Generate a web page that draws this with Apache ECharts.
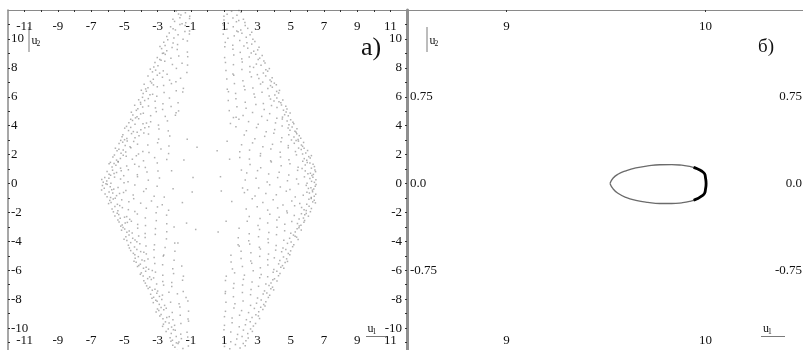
<!DOCTYPE html>
<html><head><meta charset="utf-8">
<script src="https://cdn.jsdelivr.net/npm/echarts@6/dist/echarts.min.js"></script>
<style>html,body{margin:0;padding:0;background:#fff}#c{width:803px;height:350px}</style>
</head><body><div id="c"></div>
<script>
// ---- tick values / labels ----
const leftXTicks = [-11,-10,-9,-8,-7,-6,-5,-4,-3,-2,-1,0,1,2,3,4,5,6,7,8,9,10,11];
const leftXLabels = [-11,-9,-7,-5,-3,-1,1,3,5,7,9,11];
const leftYTicks = [-11,-10,-9,-8,-7,-6,-5,-4,-3,-2,-1,0,1,2,3,4,5,6,7,8,9,10,11];
const leftYLabels = [-10,-8,-6,-4,-2,0,2,4,6,8,10];
const rightXLabels = [9,10];
const rightYLabels = [-0.75,0,0.75];

// ---- panel a): point cloud (u1,u2) ----
const leftLobeUpper = [
[-1.88,11.93],[-1.60,11.66],[-1.33,11.81],[-1.07,11.57],[-1.74,11.72],
[-1.98,11.21],[-1.66,11.46],[-2.08,11.36],[-1.31,11.12],[-1.08,11.41],[-1.53,11.05],
[-2.22,10.84],[-1.93,10.62],[-1.34,10.93],[-2.07,10.71],[-1.08,10.55],[-1.66,10.99],
[-2.30,10.41],[-2.45,10.17],[-1.77,10.29],[-1.36,10.51],[-2.02,10.06],[-1.09,10.34],
[-2.63,9.77],[-2.39,9.94],[-1.80,9.61],[-1.21,9.86],[-2.55,9.54],[-2.07,9.72],[-1.47,9.98],
[-2.76,9.33],[-2.45,9.18],[-2.86,9.47],[-1.82,9.26],[-1.21,9.09],[-2.13,9.41],[-2.64,9.02],
[-3.02,8.71],[-2.54,8.93],[-2.87,8.58],[-1.73,8.82],[-2.20,8.66],[-1.19,8.77],[-2.71,9.00],
[-3.16,8.37],[-2.98,8.14],[-2.57,8.46],[-2.11,8.23],[-3.23,8.05],[-1.53,8.31],[-2.79,8.52],[-1.20,8.19],
[-3.31,7.72],[-3.44,7.91],[-2.88,7.63],[-3.12,7.84],[-2.43,7.55],[-1.87,7.96],[-1.24,7.68],[-2.66,7.79],
[-3.58,7.44],[-3.26,7.21],[-3.43,7.06],[-2.71,7.35],[-2.28,7.15],[-3.02,7.49],[-1.62,7.28],[-1.90,7.03],
[-3.81,6.87],[-3.58,6.63],[-3.36,6.95],[-3.72,6.54],[-2.64,6.78],[-3.02,6.69],[-2.17,6.91],[-1.45,6.58],[-3.25,6.82],
[-3.87,6.22],[-3.98,6.45],[-3.46,6.13],[-3.68,6.38],[-3.05,6.04],[-2.61,6.29],[-1.88,6.41],[-3.30,6.17],[-1.49,6.33],
[-4.14,5.79],[-3.91,5.96],[-4.03,5.61],[-3.56,5.87],[-3.15,5.69],[-2.68,5.52],[-3.78,5.74],[-2.29,5.91],[-1.77,5.58],
[-4.38,5.41],[-4.19,5.17],[-3.90,5.29],[-4.28,5.06],[-3.55,5.36],[-3.13,5.23],[-4.02,5.48],[-2.70,5.12],[-2.19,5.33],[-1.74,5.02],
[-4.49,4.74],[-4.58,4.93],[-4.24,4.61],[-3.86,4.86],[-4.33,4.54],[-3.42,4.69],[-3.08,4.97],[-4.02,4.81],[-2.54,4.64],[-1.89,4.89],
[-4.73,4.21],[-4.62,4.44],[-4.36,4.09],[-4.51,4.36],[-3.88,4.13],[-3.42,4.27],[-4.14,4.48],[-2.95,4.04],[-2.41,4.33],[-3.67,4.18],
[-4.98,3.83],[-4.75,3.66],[-4.87,3.95],[-4.46,3.59],[-4.62,3.88],[-4.01,3.71],[-3.53,3.93],[-4.23,3.55],[-2.92,3.77],[-2.36,3.64],[-3.77,3.86],
[-5.09,3.38],[-4.85,3.11],[-5.14,3.24],[-4.57,3.45],[-4.99,3.03],[-4.12,3.31],[-4.36,3.16],[-3.55,3.42],[-2.94,3.07],[-2.27,3.28],[-3.83,3.49],
[-5.32,2.77],[-5.22,2.98],[-4.95,2.63],[-5.10,2.86],[-4.66,2.55],[-4.21,2.72],[-4.83,2.94],[-3.59,2.67],[-3.00,2.82],[-2.32,2.59],[-4.44,2.91],
[-5.44,2.26],[-5.54,2.44],[-5.20,2.09],[-5.33,2.37],[-4.92,2.18],[-4.61,2.47],[-4.15,2.04],[-5.07,2.31],[-3.52,2.14],[-2.80,2.39],[-3.89,2.22],[-2.34,2.07],
[-5.69,1.84],[-5.47,1.62],[-5.60,1.97],[-5.24,1.73],[-5.38,1.53],[-4.89,1.89],[-4.52,1.68],[-5.07,1.95],[-3.85,1.57],[-3.18,1.79],[-2.45,1.66],[-4.28,1.92],
[-5.92,1.36],[-5.74,1.14],[-5.51,1.27],[-5.84,1.46],[-5.23,1.06],[-5.62,1.39],[-4.86,1.21],[-4.38,1.33],[-5.37,1.49],[-3.74,1.11],[-3.02,1.42],[-4.12,1.18],
[-6.04,0.83],[-5.92,0.64],[-5.71,0.92],[-5.83,0.57],[-5.47,0.76],[-5.19,0.88],[-5.62,0.69],[-4.76,0.95],[-4.22,0.61],[-3.64,0.79],[-2.98,0.86],[-5.04,0.54],
[-6.36,0.27],[-6.18,0.41],[-6.27,0.09],[-5.93,0.36],[-6.06,0.17],[-5.59,0.44],[-5.81,0.02],[-5.23,0.31],[-4.78,0.12],[-4.21,0.47],[-3.56,0.23],[-2.89,0.38],[-5.02,0.06],
[-1.42,1.63],[-0.87,0.41],[-1.93,4.72],[-1.22,3.06],[-2.16,0.88],[-0.63,2.51]
];
const leftLobeLower = [
[-6.32,-0.14],[-6.21,-0.33],[-6.03,-0.06],[-6.37,-0.45],[-5.85,-0.22],[-5.64,-0.39],[-6.11,-0.01],[-5.38,-0.28],[-4.91,-0.48],[-4.37,-0.11],[-3.69,-0.36],[-3.03,-0.19],[-5.76,-0.43],
[-6.16,-0.73],[-5.92,-0.58],[-6.04,-0.91],[-5.70,-0.66],[-5.47,-0.84],[-5.83,-0.97],[-5.05,-0.62],[-4.47,-0.79],[-3.84,-0.55],[-3.21,-0.88],[-5.29,-0.69],[-2.60,-0.94],
[-5.88,-1.17],[-5.95,-1.39],[-5.67,-1.08],[-5.80,-1.31],[-5.42,-1.44],[-5.16,-1.13],[-4.73,-1.26],[-5.55,-1.02],[-4.02,-1.36],[-3.37,-1.21],[-2.72,-1.47],[-4.44,-1.05],
[-5.74,-1.76],[-5.57,-1.59],[-5.39,-1.88],[-5.66,-1.96],[-5.12,-1.67],[-4.76,-1.81],[-5.28,-1.53],[-4.37,-1.93],[-3.68,-1.71],[-3.01,-1.62],[-2.34,-1.85],
[-5.57,-2.24],[-5.43,-2.06],[-5.25,-2.41],[-5.34,-2.15],[-4.99,-2.33],[-4.68,-2.48],[-4.22,-2.11],[-4.86,-2.29],[-3.74,-2.38],[-3.09,-2.02],[-2.46,-2.19],
[-5.32,-2.66],[-5.13,-2.87],[-5.39,-2.53],[-4.95,-2.74],[-5.22,-2.95],[-4.58,-2.61],[-4.20,-2.83],[-4.82,-2.69],[-3.73,-2.91],[-3.08,-2.57],[-2.45,-2.79],
[-5.17,-3.23],[-5.08,-3.04],[-4.85,-3.37],[-4.98,-3.15],[-4.53,-3.42],[-4.20,-3.09],[-4.71,-3.29],[-3.75,-3.46],[-3.13,-3.12],[-2.45,-3.34],[-2.01,-3.01],
[-4.91,-3.68],[-5.02,-3.86],[-4.72,-3.57],[-4.50,-3.79],[-4.85,-3.94],[-4.14,-3.63],[-3.75,-3.74],[-4.36,-3.91],[-3.14,-3.52],[-2.47,-3.83],
[-4.76,-4.27],[-4.62,-4.09],[-4.39,-4.39],[-4.70,-4.46],[-4.07,-4.16],[-3.70,-4.33],[-4.25,-4.03],[-3.19,-4.24],[-2.55,-4.42],[-1.97,-4.12],
[-4.62,-4.64],[-4.46,-4.83],[-4.25,-4.56],[-4.37,-4.92],[-4.02,-4.71],[-3.68,-4.87],[-3.22,-4.59],[-3.83,-4.76],[-2.63,-4.95],[-1.96,-4.68],
[-4.35,-5.17],[-4.42,-5.38],[-4.16,-5.06],[-3.94,-5.29],[-4.29,-5.44],[-3.58,-5.22],[-3.21,-5.11],[-3.79,-5.35],[-2.66,-5.02],[-2.01,-5.31],
[-4.21,-5.74],[-4.04,-5.58],[-3.85,-5.86],[-4.13,-5.67],[-3.54,-5.93],[-3.17,-5.53],[-3.69,-5.79],[-2.70,-5.62],[-2.09,-5.89],[-1.55,-5.71],
[-3.98,-6.18],[-3.87,-6.39],[-3.72,-6.07],[-4.04,-6.28],[-3.48,-6.46],[-3.13,-6.13],[-2.69,-6.34],[-3.32,-6.02],[-2.04,-6.23],[-1.45,-6.41],
[-3.83,-6.72],[-3.60,-6.58],[-3.74,-6.89],[-3.38,-6.64],[-3.06,-6.95],[-2.69,-6.77],[-3.24,-6.53],[-2.15,-6.84],[-1.50,-6.69],
[-3.57,-7.26],[-3.66,-7.08],[-3.32,-7.38],[-3.47,-7.17],[-3.00,-7.44],[-2.64,-7.03],[-3.16,-7.31],[-2.15,-7.12],[-1.46,-7.47],
[-3.42,-7.66],[-3.24,-7.87],[-3.05,-7.59],[-3.34,-7.94],[-2.71,-7.72],[-2.32,-7.53],[-2.89,-7.81],[-1.81,-7.63],[-1.29,-7.89],
[-3.26,-8.24],[-3.11,-8.07],[-2.90,-8.36],[-3.03,-8.15],[-2.58,-8.43],[-2.22,-8.21],[-2.75,-8.02],[-1.71,-8.31],[-1.18,-8.12],
[-3.01,-8.68],[-3.09,-8.89],[-2.79,-8.57],[-2.93,-8.78],[-2.48,-8.63],[-2.12,-8.92],[-2.63,-8.74],[-1.66,-8.55],[-1.14,-8.83],
[-2.87,-9.16],[-2.68,-9.35],[-2.79,-9.06],[-2.45,-9.27],[-2.08,-9.43],[-1.64,-9.12],[-2.30,-9.21],[-1.17,-9.38],
[-2.65,-9.73],[-2.53,-9.57],[-2.70,-9.88],[-2.31,-9.64],[-1.98,-9.81],[-1.60,-9.69],[-2.16,-9.93],[-1.14,-9.52],
[-2.49,-10.24],[-2.36,-10.06],[-2.18,-10.37],[-1.94,-10.15],[-1.61,-10.42],[-1.23,-10.28],[-2.05,-10.11],
[-2.25,-10.67],[-2.11,-10.84],[-1.88,-10.58],[-2.20,-10.91],[-1.57,-10.73],[-1.19,-10.62],[-1.72,-10.96],
[-2.09,-11.18],[-1.96,-11.33],[-1.77,-11.07],[-1.48,-11.41],[-1.15,-11.24],[-1.87,-11.02],
[-1.93,-11.72],[-1.81,-11.56],[-1.64,-11.88],[-1.40,-11.64],[-1.12,-11.79],[-1.73,-11.95],
[-1.51,-1.32],[-0.92,-0.58],[-1.78,-4.11],[-1.26,-2.74],[-2.07,-0.37],[-0.71,-3.18]
];
const rightLobeUpper = [
[2.02,11.84],[1.77,11.63],[1.45,11.91],[1.18,11.71],[0.99,11.56],[1.89,11.97],
[2.16,11.36],[2.25,11.14],[1.88,11.27],[1.53,11.45],[1.25,11.08],[0.99,11.31],[1.74,11.19],
[2.42,10.73],[2.27,10.92],[2.00,10.61],[1.55,10.84],[1.17,10.67],[0.96,10.96],[1.76,10.55],
[2.56,10.28],[2.66,10.46],[2.33,10.11],[2.07,10.39],[1.61,10.21],[1.23,10.05],[0.95,10.33],[1.84,10.49],
[2.85,9.82],[2.66,9.64],[2.73,9.97],[2.37,9.73],[1.94,9.89],[1.52,9.57],[1.07,9.76],[2.19,9.51],
[3.02,9.24],[3.10,9.43],[2.78,9.15],[2.42,9.36],[1.97,9.07],[1.53,9.29],[1.04,9.46],[2.63,9.02],
[3.29,8.86],[3.14,8.67],[2.90,8.94],[3.05,8.58],[2.51,8.75],[2.06,8.62],[1.58,8.89],[1.03,8.71],
[3.46,8.33],[3.22,8.18],[3.39,8.47],[2.94,8.26],[2.55,8.09],[2.09,8.41],[1.56,8.22],[1.08,8.37],[2.77,8.03],
[3.62,7.77],[3.72,7.95],[3.36,7.64],[3.51,7.86],[3.00,7.53],[2.55,7.71],[2.07,7.89],[1.53,7.58],[1.11,7.82],
[3.89,7.32],[3.76,7.16],[3.50,7.44],[3.84,7.05],[3.09,7.27],[2.64,7.38],[2.13,7.11],[1.58,7.48],[1.16,7.23],[3.32,7.01],
[4.14,6.83],[3.90,6.66],[4.02,6.94],[3.63,6.57],[3.79,6.77],[3.19,6.88],[2.73,6.61],[2.20,6.73],[1.62,6.91],[1.19,6.52],
[4.28,6.26],[4.33,6.44],[4.05,6.12],[4.16,6.37],[3.71,6.06],[3.28,6.31],[2.80,6.19],[2.25,6.48],[1.69,6.23],[1.26,6.35],
[4.53,5.78],[4.41,5.59],[4.17,5.92],[4.30,5.66],[3.79,5.84],[3.36,5.53],[4.00,5.71],[2.85,5.96],[2.27,5.62],[1.71,5.87],[1.25,5.74],
[4.71,5.34],[4.78,5.16],[4.45,5.43],[4.57,5.07],[4.18,5.26],[3.85,5.39],[3.41,5.12],[2.91,5.47],[2.32,5.21],[1.77,5.31],[1.31,5.04],
[4.97,4.87],[4.86,4.68],[4.73,4.94],[4.51,4.59],[4.64,4.76],[4.17,4.52],[3.74,4.83],[3.26,4.64],[2.71,4.91],[2.14,4.71],[1.56,4.56],
[5.14,4.24],[5.00,4.41],[5.19,4.13],[4.79,4.33],[4.90,4.06],[4.50,4.46],[4.09,4.19],[3.60,4.37],[3.05,4.09],[2.47,4.28],[1.89,4.44],[1.38,4.15],
[5.38,3.79],[5.26,3.62],[5.09,3.91],[5.33,3.54],[4.85,3.84],[4.96,3.68],[4.49,3.97],[4.04,3.73],[3.53,3.58],[2.95,3.87],[2.34,3.65],[1.71,3.93],
[5.52,3.31],[5.61,3.13],[5.37,3.44],[5.20,3.22],[5.45,3.05],[4.89,3.37],[4.47,3.17],[3.99,3.48],[3.44,3.26],[2.85,3.09],[2.21,3.35],[5.05,3.01],
[5.78,2.84],[5.65,2.66],[5.47,2.93],[5.72,2.57],[5.22,2.78],[5.33,2.97],[4.86,2.62],[4.42,2.89],[3.91,2.71],[3.33,2.54],[2.71,2.81],[2.05,2.68],
[6.02,2.28],[5.81,2.43],[5.91,2.11],[5.64,2.35],[5.72,2.04],[5.29,2.21],[4.86,2.47],[4.37,2.16],[3.81,2.39],[3.19,2.07],[2.53,2.31],[1.94,2.19],[5.48,2.45],
[6.18,1.77],[6.25,1.93],[5.97,1.61],[6.09,1.86],[5.73,1.54],[5.82,1.72],[5.35,1.98],[4.90,1.65],[4.39,1.83],[3.80,1.57],[3.18,1.91],[2.52,1.69],[1.94,1.79],
[6.35,1.33],[6.43,1.17],[6.16,1.41],[6.25,1.06],[5.88,1.28],[6.00,1.46],[5.45,1.12],[4.96,1.37],[4.43,1.22],[3.84,1.49],[3.20,1.09],[2.56,1.31],[5.69,1.03],
[6.50,0.82],[6.37,0.63],[6.46,0.94],[6.19,0.71],[6.28,0.56],[5.88,0.87],[6.04,0.68],[5.42,0.91],[4.89,0.59],[4.31,0.77],[3.68,0.66],[3.01,0.89],[2.36,0.73],
[6.52,0.26],[6.34,0.43],[6.43,0.08],[6.16,0.35],[6.26,0.15],[5.83,0.46],[5.99,0.02],[5.36,0.31],[4.81,0.19],[4.22,0.41],[3.59,0.11],[2.92,0.37],[2.27,0.24],
[1.33,1.68],[0.78,0.47],[1.72,4.58],[1.18,2.93],[2.04,0.93],[0.58,2.26]
];
const rightLobeLower = [
[6.48,-0.19],[6.39,-0.38],[6.53,-0.07],[6.22,-0.29],[6.31,-0.46],[5.94,-0.13],[6.07,-0.34],[5.47,-0.03],[4.96,-0.42],[4.38,-0.24],[3.74,-0.09],[3.08,-0.31],[2.41,-0.44],
[6.51,-0.74],[6.32,-0.57],[6.42,-0.89],[6.13,-0.66],[6.24,-0.96],[5.76,-0.81],[5.98,-0.61],[5.28,-0.93],[4.74,-0.53],[4.14,-0.78],[3.51,-0.69],[2.86,-0.86],[2.22,-0.63],
[6.42,-1.16],[6.49,-1.34],[6.24,-1.04],[6.33,-1.27],[5.97,-1.43],[6.10,-1.09],[5.55,-1.38],[5.07,-1.21],[4.54,-1.48],[3.95,-1.13],[3.33,-1.31],[2.69,-1.06],
[6.25,-1.73],[6.11,-1.58],[5.94,-1.87],[6.19,-1.95],[5.66,-1.66],[5.81,-1.81],[5.24,-1.54],[4.77,-1.91],[4.22,-1.69],[3.62,-1.84],[2.99,-1.61],[2.33,-1.77],
[6.07,-2.26],[5.94,-2.07],[5.77,-2.39],[5.85,-2.16],[5.51,-2.45],[5.22,-2.21],[4.80,-2.03],[4.31,-2.34],[3.75,-2.12],[3.16,-2.42],[2.51,-2.29],[5.65,-2.09],
[5.80,-2.68],[5.62,-2.89],[5.84,-2.56],[5.41,-2.77],[5.52,-2.94],[5.07,-2.63],[4.65,-2.82],[4.17,-2.52],[3.62,-2.73],[3.04,-2.91],[2.39,-2.61],
[5.64,-3.22],[5.50,-3.06],[5.28,-3.35],[5.39,-3.13],[5.01,-3.44],[4.64,-3.27],[4.18,-3.03],[3.69,-3.39],[3.13,-3.18],[2.51,-3.47],[1.90,-3.09],
[5.36,-3.71],[5.45,-3.88],[5.17,-3.57],[4.94,-3.79],[5.27,-3.64],[4.59,-3.93],[4.15,-3.54],[3.64,-3.83],[3.07,-3.68],[2.48,-3.96],[1.85,-3.75],
[5.19,-4.23],[5.03,-4.05],[5.12,-4.37],[4.81,-4.14],[4.54,-4.46],[4.13,-4.28],[3.66,-4.09],[3.12,-4.41],[2.54,-4.19],[1.91,-4.33],
[5.00,-4.66],[4.86,-4.84],[4.71,-4.57],[4.95,-4.93],[4.46,-4.72],[4.10,-4.61],[3.67,-4.88],[3.18,-4.53],[2.61,-4.79],[2.02,-4.69],[1.41,-4.96],
[4.76,-5.21],[4.81,-5.39],[4.57,-5.08],[4.35,-5.32],[4.67,-5.46],[4.02,-5.14],[3.62,-5.27],[3.14,-5.04],[2.60,-5.36],[2.02,-5.18],[1.42,-5.43],
[4.51,-5.68],[4.59,-5.87],[4.28,-5.56],[4.41,-5.79],[3.99,-5.94],[3.63,-5.63],[3.18,-5.83],[2.66,-5.52],[2.10,-5.74],[1.50,-5.91],
[4.36,-6.22],[4.17,-6.07],[4.27,-6.38],[3.95,-6.14],[3.62,-6.45],[3.23,-6.29],[2.75,-6.03],[2.22,-6.34],[1.63,-6.18],[1.13,-6.41],
[4.18,-6.74],[4.03,-6.59],[3.82,-6.88],[3.93,-6.66],[3.51,-6.95],[3.14,-6.52],[2.68,-6.81],[2.16,-6.63],[1.59,-6.91],[1.08,-6.71],
[3.91,-7.17],[3.98,-7.36],[3.70,-7.06],[3.81,-7.28],[3.43,-7.43],[3.07,-7.11],[2.62,-7.33],[2.11,-7.02],[1.56,-7.24],[1.08,-7.47],
[3.74,-7.73],[3.57,-7.57],[3.66,-7.88],[3.35,-7.64],[3.01,-7.92],[2.59,-7.69],[2.10,-7.54],[1.56,-7.83],[1.07,-7.61],
[3.51,-8.18],[3.38,-8.37],[3.23,-8.06],[2.95,-8.28],[2.59,-8.43],[2.14,-8.13],[1.65,-8.32],[1.11,-8.21],[3.46,-8.47],
[3.33,-8.72],[3.20,-8.56],[3.08,-8.87],[2.82,-8.64],[2.47,-8.93],[2.05,-8.79],[1.59,-8.61],[1.08,-8.84],
[3.06,-9.16],[3.13,-9.34],[2.91,-9.07],[2.68,-9.26],[2.34,-9.42],[1.93,-9.11],[1.48,-9.31],[1.02,-9.21],
[2.89,-9.68],[2.76,-9.86],[2.57,-9.57],[2.28,-9.77],[1.91,-9.91],[1.48,-9.63],[1.02,-9.81],
[2.70,-10.23],[2.59,-10.06],[2.42,-10.38],[2.16,-10.14],[1.81,-10.44],[1.40,-10.27],[0.99,-10.11],
[2.45,-10.68],[2.31,-10.87],[2.08,-10.59],[1.76,-10.76],[1.40,-10.94],[1.01,-10.63],
[2.27,-11.22],[2.15,-11.06],[1.96,-11.37],[1.68,-11.14],[1.34,-11.43],[1.02,-11.27],
[2.08,-11.74],[1.97,-11.57],[1.81,-11.86],[1.56,-11.66],[1.24,-11.93],[0.98,-11.79],
[1.46,-1.24],[0.83,-0.52],[1.84,-4.23],[1.12,-2.61],[2.11,-0.31],[0.64,-3.35]
];

// ---- panel б): closed orbit (u1,u2) ----
const orbitU1 = [9.52,9.535,9.56,9.60,9.65,9.71,9.77,9.83,9.88,9.92,9.955,9.98,9.995,10.0,10.003,10.0,9.995,9.98,9.955,9.92,9.88,9.83,9.77,9.71,9.65,9.60,9.56,9.535,9.52];
const orbitU2 = [0.0,0.045,0.08,0.11,0.135,0.152,0.162,0.163,0.158,0.148,0.13,0.108,0.085,0.05,0.0,-0.05,-0.085,-0.11,-0.135,-0.155,-0.167,-0.173,-0.173,-0.163,-0.145,-0.12,-0.085,-0.045,0.0];
const orbitDenseU1 = [9.94,9.955,9.98,9.995,10.0,10.003,10.0,9.995,9.98,9.955,9.94];
const orbitDenseU2 = [0.14,0.13,0.108,0.085,0.05,0.0,-0.05,-0.085,-0.11,-0.135,-0.145];

const FONT = '"Liberation Serif", "Times New Roman", serif';
const TXT = '#111';
const zip = (a, b) => a.map((v, i) => [v, b[i]]);

function xAx(grid, pos, min, max, ticks, labels, fmt) {
  return {
    type: 'value', gridIndex: grid, position: pos, min: min, max: max,
    axisLine: { show: true, onZero: false, lineStyle: { color: '#8a8a8a', width: 1 } },
    axisTick: { show: ticks.length > 0, inside: true, length: 2, customValues: ticks, lineStyle: { color: '#333' } },
    axisLabel: { show: true, inside: true, margin: 10, customValues: labels, formatter: fmt,
      color: TXT, fontFamily: FONT, fontSize: 13 },
    splitLine: { show: false }
  };
}
function yAx(grid, pos, min, max, ticks, labels, fmt, line, margin) {
  return {
    type: 'value', gridIndex: grid, position: pos, min: min, max: max,
    axisLine: line,
    axisTick: { show: ticks.length > 0, inside: true, length: 2, customValues: ticks, lineStyle: { color: '#333' } },
    axisLabel: { show: true, inside: true, margin: margin, customValues: labels, formatter: fmt,
      color: TXT, fontFamily: FONT, fontSize: 13 },
    splitLine: { show: false }
  };
}
const intFmt = v => String(v);
const decFmt = v => (v === 0 ? '0.0' : String(v));

const dotStyle = { color: 'rgba(95,95,95,0.62)' };
function cloud(data) {
  return { type: 'scatter', xAxisIndex: 0, yAxisIndex: 0, data: data, symbol: 'rect',
    symbolSize: 1.5, itemStyle: dotStyle, silent: true, animation: false };
}

function txt(x, y, s, size, align) {
  return { type: 'text', x: x, y: y, silent: true,
    style: { text: s, fill: TXT, font: size + 'px ' + FONT, align: align || 'left', verticalAlign: 'middle' } };
}
function seg(x1, y1, x2, y2) {
  return { type: 'line', silent: true, shape: { x1: x1, y1: y1, x2: x2, y2: y2 },
    style: { stroke: '#7a7a7a', lineWidth: 1 } };
}

const chart = echarts.init(document.getElementById('c'), null, { renderer: 'canvas' });
chart.setOption({
  animation: false,
  backgroundColor: '#fff',
  grid: [
    { left: 8, top: 10, width: 399, height: 347, outerBoundsMode: 'none', containLabel: false },
    { left: 407, top: 10, width: 398, height: 347, outerBoundsMode: 'none', containLabel: false }
  ],
  xAxis: [
    xAx(0, 'top', -12, 12, leftXTicks, leftXLabels, intFmt),
    xAx(0, 'bottom', -12, 12, leftXTicks, leftXLabels, intFmt),
    xAx(1, 'top', 8.5, 10.5, rightXLabels, rightXLabels, intFmt),
    xAx(1, 'bottom', 8.5, 10.5, rightXLabels, rightXLabels, intFmt)
  ],
  yAxis: [
    yAx(0, 'left', -12, 12, leftYTicks, leftYLabels, intFmt,
      { show: true, onZero: false, lineStyle: { color: '#8a8a8a', width: 1.5 } }, 3),
    yAx(0, 'right', -12, 12, leftYTicks, leftYLabels, intFmt,
      { show: true, onZero: false, lineStyle: { color: '#8f8f8f', width: 3 } }, 5),
    yAx(1, 'left', -1.5, 1.5, [], rightYLabels, decFmt, { show: false, onZero: false }, 3),
    yAx(1, 'right', -1.5, 1.5, [], rightYLabels, decFmt, { show: false, onZero: false }, 3)
  ],
  series: [
    cloud(leftLobeUpper), cloud(leftLobeLower), cloud(rightLobeUpper), cloud(rightLobeLower),
    { type: 'line', xAxisIndex: 2, yAxisIndex: 2, data: zip(orbitU1, orbitU2), smooth: true,
      showSymbol: false, silent: true, lineStyle: { color: 'rgba(70,70,70,0.8)', width: 1.3 } },
    { type: 'line', xAxisIndex: 2, yAxisIndex: 2, data: zip(orbitDenseU1, orbitDenseU2), smooth: true,
      showSymbol: false, silent: true, lineStyle: { color: '#000', width: 2.8 } }
  ],
  graphic: [
    seg(29, 27, 29, 52), txt(31.5, 41, 'u', 12), txt(36.5, 44.5, '2', 7.5),
    seg(366, 336.5, 387, 336.5), txt(367.5, 329, 'u', 12), txt(372.5, 332, '1', 7.5),
    seg(427, 27, 427, 52), txt(429.5, 41, 'u', 12), txt(434.5, 44.5, '2', 7.5),
    seg(761, 336.5, 785, 336.5), txt(763, 329, 'u', 12), txt(768, 332, '1', 7.5),
    txt(361, 48.5, 'a)', 26), txt(758, 47, 'б)', 19)
  ]
});
</script>
</body></html>
